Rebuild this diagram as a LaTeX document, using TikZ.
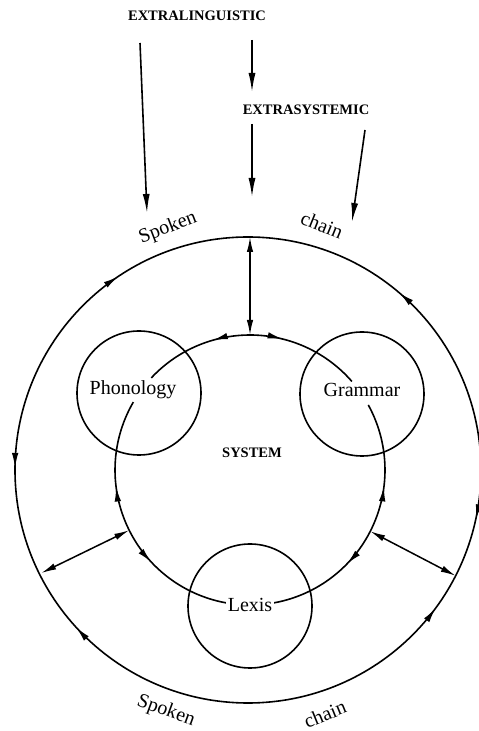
\documentclass[tikz,border=0pt]{standalone}
\usepackage{fontspec}
\setmainfont{Liberation Serif}
\usetikzlibrary{arrows.meta,decorations.markings}
\begin{document}
\begin{tikzpicture}[x=1pt,y=1pt,
  line/.style={line width=1.6pt},
  tipline/.style={line width=1.6pt,-{Latex[length=19pt,width=7pt]}},
  dbl/.style={line width=1.5pt,{Latex[length=15pt,width=6.5pt]}-{Latex[length=15pt,width=6.5pt]}},
  lbl/.style={font=\fontsize{20}{22}\selectfont,inner sep=0pt},
  caps/.style={font=\bfseries\fontsize{14.5}{16}\selectfont,inner sep=0pt},
  mk/.style={postaction={decorate},decoration={markings,#1}},
]
\def\tipx{\arrow{Latex[length=15pt,width=6.5pt]}}
\def\tipr{\arrowreversed{Latex[length=15pt,width=6.5pt]}}
\useasboundingbox (0,0) rectangle (479,731);
% centres
\coordinate (O) at (248,261);
\coordinate (C) at (250,261);
% outer circle (spoken chain)
\draw[line,mk={mark=at position 0.1375 with {\tipx},
               mark=at position 0.344 with {\tipr},
               mark=at position 0.4986 with {\tipx},
               mark=at position 0.618 with {\tipr},
               mark=at position 0.899 with {\tipx},
               mark=at position 0.966 with {\tipr}}] (O) circle (233);
% small circles
\draw[line] (139,338) circle (62);
\draw[line] (362,337) circle (62);
\draw[line] (250,125) circle (62);
% inner system arcs
\draw[line,mk={mark=at position 0.323 with {\tipr},mark=at position 0.635 with {\tipx}}]
  ([shift={(137:135)}]C) arc (137:41:135);
\draw[line,mk={mark=at position 0.336 with {\tipr},mark=at position 0.661 with {\tipx}}]
  ([shift={(149.8:135)}]C) arc (149.8:260.6:135);
\draw[line,mk={mark=at position 0.327 with {\tipr},mark=at position 0.666 with {\tipx}}]
  ([shift={(28.8:135)}]C) arc (28.8:-80.6:135);
% labels
\node[caps,anchor=base] (extl) at (197,710) {EXTRALINGUISTIC};
\node[caps,anchor=base] (exts) at (306,616) {EXTRASYSTEMIC};
\node[caps,anchor=base] (sys) at (252,273) {SYSTEM};
\node[lbl,anchor=base] (phon) at (133,336) {Phonology};
\node[lbl,anchor=base] (gram) at (362,334) {Grammar};
\node[lbl,anchor=base,fill=white,inner xsep=2pt] (lex) at (250,119) {Lexis};
\node[lbl,rotate=21] (sp1) at (168,503) {Spoken};
\node[lbl,rotate=-22] (ch1) at (322,506) {chain};
\node[lbl,rotate=-20] (sp2) at (166,20) {Spoken};
\node[lbl,rotate=22] (ch2) at (325,17) {chain};
% incoming arrows
\coordinate (a1s) at (140,688); \coordinate (a1e) at (147,518);
\coordinate (a2s) at (252,691); \coordinate (a2e) at (252,639);
\coordinate (a3s) at (252,607); \coordinate (a3e) at (252,534);
\coordinate (a4s) at (365,601); \coordinate (a4e) at (352,509);
\draw[tipline] (a1s) -- (a1e);
\draw[tipline] (a2s) -- (a2e);
\draw[tipline] (a3s) -- (a3e);
\draw[tipline] (a4s) -- (a4e);
% radial double arrows
\coordinate (ot) at (250,494); \coordinate (it) at (250,396);
\coordinate (ol) at ([shift={(206.5:231)}]O); \coordinate (il) at ([shift={(206.5:135)}]C);
\coordinate (or) at ([shift={(-27:233)}]O); \coordinate (ir) at ([shift={(-27:135)}]C);
\draw[dbl] (ot) -- (it);
\draw[dbl] (ol) -- (il);
\draw[dbl] (or) -- (ir);
\end{tikzpicture}
\end{document}
